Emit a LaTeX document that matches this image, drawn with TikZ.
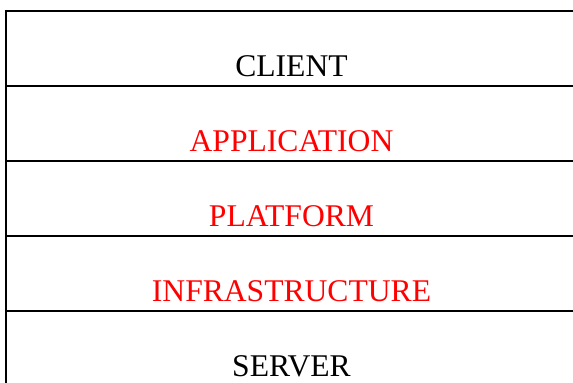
\documentclass[tikz,border=0pt]{standalone}
\usepackage{fontspec}
\setmainfont{Liberation Serif}
\begin{document}
\begin{tikzpicture}[x=0.5pt, y=-0.5pt,
		rule/.style = {black, line width=1pt},
		layer/.style = {anchor = base, inner sep=0pt, font=\fontsize{15.8}{19}\selectfont},
		service/.style = {layer, text=red}]
		\useasboundingbox (0,0) rectangle (573,383);
		%
		\draw[rule] (6,383)--(6,11)--(573,11);
		\draw[rule] (6,86)--(573,86);
		\draw[rule] (6,161)--(573,161);
		\draw[rule] (6,236)--(573,236);
		\draw[rule] (6,311)--(573,311);
		%
		\node[layer] (client) at (291.5,77) {CLIENT};
		\node[service] (app) at (291.5,152) {APPLICATION};
		\node[service] (plat) at (291.5,227) {PLATFORM};
		\node[service] (infra) at (291.5,302) {INFRASTRUCTURE};
		\node[layer] (server) at (291.5,377) {SERVER};
		%
	\end{tikzpicture}
\end{document}
